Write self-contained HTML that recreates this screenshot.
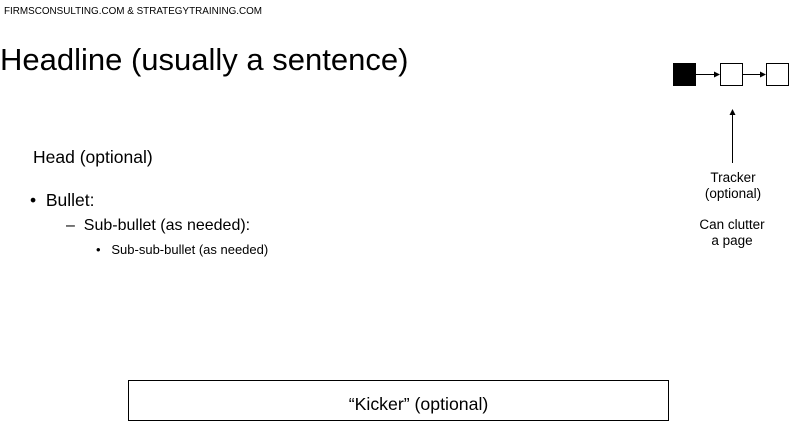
<!DOCTYPE html>
<html><head><style>
body{margin:0;width:796px;height:422px;background:#fff;position:relative;overflow:hidden;font-family:"Liberation Sans",sans-serif;color:#000}
.t{position:absolute;white-space:nowrap}
</style></head><body>
<div class="t" style="left:4px;top:6px;font-size:9.9px">FIRMSCONSULTING.COM &amp; STRATEGYTRAINING.COM</div>
<div class="t" style="left:0;top:42px;font-size:31px">Headline (usually a sentence)</div>
<div class="t" style="left:33px;top:147px;font-size:17.5px">Head (optional)</div>
<div class="t" style="left:30px;top:190px;font-size:17.5px">•&nbsp;&nbsp;Bullet:</div>
<div class="t" style="left:66px;top:217px;font-size:16px">–&nbsp;&nbsp;Sub-bullet (as needed):</div>
<div class="t" style="left:96px;top:242px;font-size:13px">•&nbsp;&nbsp;&nbsp;Sub-sub-bullet (as needed)</div>
<svg style="position:absolute;left:0;top:0" width="796" height="422">
<defs><marker id="a" markerWidth="6" markerHeight="6" refX="5" refY="3" orient="auto"><path d="M0,0L6,3L0,6z"/></marker></defs>
<rect x="673.5" y="63.5" width="22" height="22" fill="#000" stroke="#000"/>
<rect x="720.5" y="63.5" width="22" height="22" fill="#fff" stroke="#000"/>
<rect x="766.5" y="63.5" width="22" height="22" fill="#fff" stroke="#000"/>
<line x1="696" y1="74.5" x2="719" y2="74.5" stroke="#000" marker-end="url(#a)"/>
<line x1="743" y1="74.5" x2="765" y2="74.5" stroke="#000" marker-end="url(#a)"/>
<line x1="732.5" y1="163" x2="732.5" y2="110" stroke="#000" marker-end="url(#a)"/>
<rect x="128.5" y="380.5" width="540" height="40" fill="#fff" stroke="#000"/>
</svg>
<div class="t" style="left:683px;top:170px;width:100px;text-align:center;font-size:13.5px;line-height:16px">Tracker<br>(optional)</div>
<div class="t" style="left:682px;top:217px;width:100px;text-align:center;font-size:13.5px;line-height:16px">Can clutter<br>a page</div>
<div class="t" style="left:148px;top:394px;width:541px;text-align:center;font-size:17.7px">“Kicker” (optional)</div>
</body></html>
